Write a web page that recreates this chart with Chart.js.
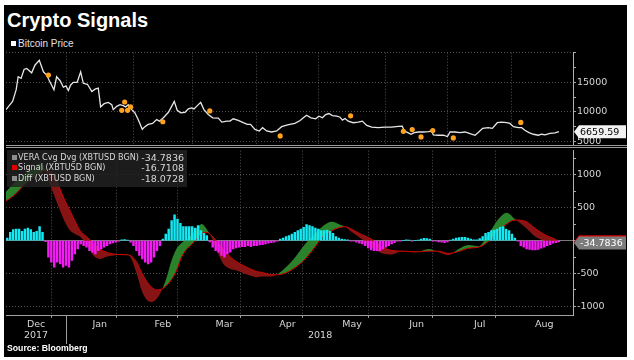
<!DOCTYPE html>
<html>
<head>
<meta charset="utf-8">
<script src="https://cdn.jsdelivr.net/npm/chart.js@4.4.1/dist/chart.umd.min.js"></script>
<style>
  body { margin: 0; background: #fff; width: 634px; height: 360px; position: relative; overflow: hidden; }
  #frame { position: absolute; left: 4px; top: 5px; width: 623px; height: 352px; background: #000; }
  #title { position: absolute; left: 7px; top: 9px; line-height: 20px; color: #fff; font: bold 20px "Liberation Sans", sans-serif; }
  #priceLegend { position: absolute; left: 11px; top: 38px; line-height: 11px; color: #e0e0e0; font: 10px "Liberation Sans Narrow", sans-serif; }
  #priceLegend .sw { display: inline-block; width: 5px; height: 5px; background: #fff; margin-right: 2px; vertical-align: 1px; }
  #sep { position: absolute; left: 6px; top: 145px; width: 621px; height: 1px; border-top: 1px solid #9a9a9a; border-bottom: 1px solid #9a9a9a; }
  canvas { position: absolute; left: 0; }
  #macdLegend { position: absolute; left: 7px; top: 150px; width: 180px; height: 37px; background: rgba(34, 34, 34, 0.82); }
  #macdLegend .row { position: relative; height: 10.5px; line-height: 10.5px; color: #d8d8d8; font: 9px "DejaVu Sans Condensed", sans-serif; }
  #macdLegend .row:first-child { margin-top: 1.5px; }
  #macdLegend .sw { position: absolute; left: 5px; top: 3px; width: 5px; height: 5px; }
  #macdLegend .name { position: absolute; left: 11px; }
  #macdLegend .val { position: absolute; right: 3px; font: 9.5px "DejaVu Sans", sans-serif; }
  #source { position: absolute; left: 7px; top: 343px; line-height: 11px; color: #fff; font: bold 8.7px "Liberation Sans", sans-serif; }
</style>
</head>
<body>
<div id="frame"></div>
<div id="title">Crypto Signals</div>
<div id="priceLegend"><span class="sw"></span>Bitcoin Price</div>
<canvas id="priceChart" width="634" height="106" style="top:46px"></canvas>
<canvas id="macdChart" width="634" height="213" style="top:144px"></canvas>
<div id="sep"></div>
<div id="macdLegend"></div>
<div id="source">Source: Bloomberg</div>

<script>
// x positions are weekday (trading day) counts from Fri 1 Dec 2017
const monthNames = ['Dec', 'Jan', 'Feb', 'Mar', 'Apr', 'May', 'Jun', 'Jul', 'Aug'];
const monthMid = [10.8, 32.5, 54, 75, 96.5, 118.5, 140.5, 162, 184];
const monthStart = [21, 44, 64, 86, 107, 130, 151, 173];
const yearNames = ['2017', '2018'];
const yearMid = [10.8, 107.6];
const yearSplit = 21;

// bitcoin price (top panel)
const priceIdx = [0.55, 1.3, 2.8, 4, 4.7, 5.7, 6.7, 7.6, 9.3, 10.4, 11.9, 13.3, 14.4, 15.5, 16.9, 17.8, 19, 20.1, 21, 21.8,
    22.6, 23.5, 24.8, 26, 26.9, 28.3, 29.8, 30.9, 32, 32.8, 34, 35.4, 36.6, 37.1, 38.3, 39.4, 40.5, 41.4, 42.2, 43.4,
    44.5, 45.6, 47, 47.9, 49, 50.5, 51.9, 52.8, 54.2, 55.9, 57, 57.9, 58.9, 60.1, 61.6, 62.7, 63.8, 64.6, 65.5, 66.9,
    68, 69.5, 71, 72.9, 74.1, 75.8, 76.9, 78, 79.7, 81.4, 82.8, 83.9, 85.4, 86.9, 88, 89.4, 91.1, 92.8, 94.5, 96.2,
    97.3, 99, 100.8, 101.9, 103, 104.5, 106.1, 107.2, 108.4, 109.5, 110.6, 111.8, 113.3, 114.4, 115.2, 116.1, 117.2, 118.9, 120.6, 122,
    123.5, 125.2, 127.4, 129.7, 132, 134.3, 135.6, 136.3, 137.5, 138.6, 139.7, 141.1, 142.8, 144.5, 145.6, 146.2, 147.9, 149.6, 151, 151.9,
    153.6, 155.3, 157, 158.7, 160.4, 161.5, 163, 164.9, 166.3, 168, 169.5, 171.2, 172.3, 173.5, 175.2, 176.3, 177.4, 178.8, 180.3, 182,
    183.1, 184.3, 185.9, 187.7, 189];
const priceVal = [10383, 10833, 11770, 13717, 15933, 15667, 17167, 17333, 16600, 17883, 18717, 16767, 16217, 15100, 13717, 15933, 15267, 14167, 14383, 13600,
    14550, 15000, 15000, 16767, 14833, 14667, 13433, 13833, 14000, 10833, 11383, 11600, 11217, 10383, 10933, 11217, 11050, 10833, 11217, 10383,
    9833, 8717, 7050, 7500, 7883, 8050, 8717, 8433, 9000, 9933, 10933, 11767, 10267, 9833, 9933, 10500, 10667, 10500, 10933, 11600,
    10383, 9550, 9000, 8933, 8267, 8433, 8433, 8833, 8550, 8167, 7883, 7883, 7050, 6767, 7333, 6767, 6600, 6767, 7500, 7767,
    7883, 8050, 8550, 9000, 9433, 9000, 8833, 9267, 9000, 9550, 9717, 9383, 9267, 9100, 8600, 8883, 8433, 8167, 8267, 8433,
    7717, 7433, 7333, 7433, 7433, 7550, 7600, 6767, 6500, 6217, 6500, 6600, 6600, 6667, 6767, 6100, 6050, 6050, 5833, 6600,
    6600, 6500, 6600, 6333, 6050, 6500, 7217, 7333, 7217, 8167, 8267, 8167, 8050, 7500, 7333, 7333, 6883, 6500, 6217, 6050,
    6217, 6100, 6383, 6433, 6660];
const markIdx = [15, 40, 41, 42, 43, 54, 70, 94, 118, 136, 139, 142, 146, 153, 176];
const markVal = [16217, 10267, 11667, 10267, 10833, 8333, 10167, 5933, 9333, 6717, 7000, 5767, 6833, 5600, 8217];
const lastPrice = 6659.59;
const priceTicks = [5000, 7500, 10000, 12500, 15000, 17500, 20000];
const priceGrid = [5000, 10000, 15000, 20000];
const priceLabels = [5000, 10000, 15000];

// VERA convergence / divergence (bottom panel)
const macdIdx = [0.5, 3.6, 6.5, 9.3, 12.1, 13.8, 15.5, 17.3, 19, 20.7, 22.4, 24.1, 25.8, 28, 30.3, 32.6, 34.9, 37.1, 39.4, 41.7,
    43.4, 45.1, 46.8, 48.5, 50.2, 51.9, 53.6, 55.3, 57, 58.7, 60.4, 62.1, 63.8, 65.5, 67.3, 69, 70.7, 72.4, 74.6, 76.9,
    79.2, 81.5, 83.7, 86, 88.3, 90.5, 92.8, 95.4, 99.1, 102.5, 105.9, 108.7, 111.6, 114.4, 116.1, 118.4, 121.8, 125.2, 128.6, 132,
    135.4, 138.8, 141.1, 144.5, 148, 151.3, 154.8, 158.2, 161.6, 165, 168.4, 171.2, 174, 177.5, 180.9, 184.3, 187.7, 189];
const macdVal = [740, 890, 1000, 1086, 1172, 1090, 860, 650, 455, 280, 152, 100, 60, -50, -227, -278, -245, -228, -212, -205,
    -290, -505, -758, -899, -934, -884, -758, -560, -300, -120, -35, 15, 85, 185, 253, 170, 40, -152, -353, -429,
    -455, -495, -530, -556, -545, -545, -518, -430, -253, -50, 101, 227, 288, 242, 212, 130, 25, -101, -192, -212,
    -162, -177, -172, -126, -177, -220, -126, -66, -85, 101, 328, 424, 328, 202, 61, -5, -15, -35];
const signalVal = [600, 700, 835, 940, 1020, 1065, 1050, 960, 780, 600, 450, 290, 150, 60, -40, -130, -180, -205, -212, -215,
    -240, -330, -490, -620, -710, -750, -740, -680, -590, -450, -250, -130, -60, 30, 110, 125, 70, -10, -130, -245,
    -325, -380, -430, -470, -490, -518, -520, -500, -410, -280, -95, 76, 152, 202, 212, 170, 90, 20, -90, -150,
    -160, -168, -170, -160, -162, -195, -165, -115, -100, -10, 152, 253, 313, 295, 185, 85, 20, -17];
// diff histogram, one bar per weekday starting at weekday 1 (Mon 4 Dec)
const diffStart = 1;
const diffVal = [40, 126, 167, 177, 177, 141, 177, 192, 167, 126, 141, 212, 126,
    -15, -253, -328, -404, -328, -353, -404, -379, -404, -303, -202, -126,
    -50, -76, -101, -152, -177, -202, -152, -126, -101, -76, -50, -35, -25, -10, 10, 15, 5,
    -25, -76, -152, -227, -278, -328, -353, -328, -253, -152, -76,
    25, 101, 177, 303, 394, 328, 262, 212, 212, 212, 212, 192, 227, 152, 111, 76,
    -20, -101, -152, -177, -227, -253, -202, -177, -126, -111, -101, -91, -91, -76, -91, -76, -76, -66, -61, -50, -40, -30, -25, -10,
    25, 40, 61, 76, 101, 126, 152, 177, 202, 242, 227, 212, 192, 177, 152, 152, 162, 141, 111, 61, 40, 25, 15, 10,
    -5, -10, -25, -40, -50, -76, -111, -141, -152, -152, -152, -126, -101, -76, -50, -30, -10, -5, 0,
    10, 5, -10, 0, 5, 25, 35, 30, 25, -5, -10, -20, -25, -30, -20,
    5, 25, 40, 45, 50, 50, 40, 25, 10, 10,
    30, 61, 111, 126, 152, 162, 177, 202, 212, 177, 152, 101, 40, -5,
    -76, -101, -126, -136, -141, -141, -136, -116, -101, -76, -61, -40, -30, -18];
const veraTicks = [-1000, -750, -500, -250, 0, 250, 500, 750, 1000, 1250];
const veraGrid = [-1000, -500, 0, 500, 1000];
const veraLabels = [-1000, -500, 500, 1000];

const legendNames = ['VERA Cvg Dvg (XBTUSD BGN)', 'Signal (XBTUSD BGN)', 'Diff (XBTUSD BGN)'];
const legendValues = ['-34.7836', '-16.7108', '-18.0728'];
const legendColors = ['#8c8c8c', '#e00000', '#8c8c8c'];
const lastVera = -34.7836;
const lastSignal = -16.7108;

const X_MIN = 0.55, X_MAX = 193.8;
const TEXT = '#d6d6d6';
const GRID = '#505050';
const CLEAR = 'rgba(0,0,0,0)';

Chart.defaults.font.family = '"DejaVu Sans", sans-serif';
Chart.defaults.font.size = 9.5;
Chart.defaults.color = TEXT;

function points(xs, ys) {
    return xs.map((x, k) => ({x: x, y: ys[k]}));
}

function monthAxis(withLabels) {
    return {
        type: 'linear',
        min: X_MIN,
        max: X_MAX,
        offset: false,
        afterBuildTicks: (s) => {
            let vals = monthStart.slice();
            if (withLabels) {
                vals = vals.concat(monthMid);
            }
            s.ticks = vals.sort((a, b) => a - b).map((v) => ({value: v}));
        },
        afterFit: (s) => { s.height = withLabels ? 42 : 0; },
        ticks: {
            display: withLabels,
            autoSkip: false,
            maxRotation: 0,
            padding: 1,
            color: TEXT,
            callback: (v) => {
                const k = monthMid.indexOf(v);
                return k >= 0 ? monthNames[k] : '';
            }
        },
        grid: {
            color: (c) => (c.tick && monthStart.includes(c.tick.value)) ? GRID : CLEAR,
            tickColor: (c) => (c.tick && monthStart.includes(c.tick.value)) ? '#999' : CLEAR,
            drawTicks: withLabels,
            tickLength: 3
        },
        border: { display: withLabels, color: '#a0a0a0', dash: [1, 2] }
    };
}

function valueAxis(min, max, ticks, gridVals, labels) {
    return {
        position: 'right',
        min: min,
        max: max,
        afterBuildTicks: (s) => { s.ticks = ticks.map((v) => ({value: v})); },
        afterFit: (s) => { s.width = 61; },
        ticks: {
            color: TEXT,
            padding: 1,
            callback: (v) => labels.includes(v) ? String(v) : ''
        },
        grid: {
            color: (c) => {
                if (!c.tick) return GRID;
                if (c.tick.value === 0) return '#7a7a7a';
                return gridVals.includes(c.tick.value) ? GRID : CLEAR;
            },
            tickColor: '#aaa',
            tickLength: 3
        },
        border: {
            color: '#b0b0b0',
            dash: (c) => (c.tick && c.tick.value === 0) ? [] : [1, 2]
        }
    };
}

// price / value tags on the right axis
const valueTags = {
    id: 'valueTags',
    afterDraw(chart, args, opts) {
        const ctx = chart.ctx;
        const y = chart.scales.y;
        const x0 = chart.chartArea.right + 1;
        opts.items.forEach((it) => {
            const py = y.getPixelForValue(it.value);
            ctx.save();
            ctx.beginPath();
            ctx.moveTo(x0, py);
            ctx.lineTo(x0 + 5, py - 6.5);
            ctx.lineTo(x0 + 52, py - 6.5);
            ctx.lineTo(x0 + 52, py + 6.5);
            ctx.lineTo(x0 + 5, py + 6.5);
            ctx.closePath();
            ctx.fillStyle = it.bg;
            ctx.fill();
            if (it.text) {
                ctx.fillStyle = it.color;
                ctx.font = '9.5px "DejaVu Sans"';
                ctx.textBaseline = 'middle';
                ctx.fillText(it.text, x0 + 6, py + 0.5);
            }
            ctx.restore();
        });
    }
};

// second row of the time axis: years and the split between them
const yearRow = {
    id: 'yearRow',
    afterDraw(chart) {
        const ctx = chart.ctx;
        const x = chart.scales.x;
        ctx.save();
        ctx.fillStyle = TEXT;
        ctx.font = '9.5px "DejaVu Sans"';
        ctx.textAlign = 'center';
        ctx.textBaseline = 'middle';
        yearNames.forEach((name, k) => {
            ctx.fillText(name, x.getPixelForValue(yearMid[k]), x.top + 21);
        });
        const sx = Math.round(x.getPixelForValue(yearSplit)) + 0.5;
        ctx.strokeStyle = '#9a9a9a';
        ctx.lineWidth = 1;
        ctx.beginPath();
        ctx.moveTo(sx, x.top);
        ctx.lineTo(sx, x.top + 29);
        ctx.stroke();
        ctx.restore();
    }
};

const priceChart = new Chart(document.getElementById('priceChart'), {
    type: 'line',
    data: {
        datasets: [{
            data: points(markIdx, markVal),
            showLine: false,
            pointRadius: 2.6,
            pointBackgroundColor: '#ffa21f',
            pointBorderWidth: 0,
            order: 0
        }, {
            data: points(priceIdx, priceVal),
            borderColor: '#e6e6e6',
            borderWidth: 1.3,
            pointRadius: 0,
            tension: 0,
            order: 1
        }]
    },
    options: {
        responsive: false,
        animation: false,
        events: [],
        layout: { padding: { left: 6, right: 0, top: 6, bottom: 6 } },
        scales: {
            x: monthAxis(false),
            y: valueAxis(4350, 20000, priceTicks, priceGrid, priceLabels)
        },
        plugins: {
            legend: { display: false },
            tooltip: { enabled: false },
            valueTags: { items: [{ value: lastPrice, bg: '#f2f2f2', color: '#000', text: lastPrice.toFixed(2) }] }
        }
    },
    plugins: [valueTags]
});

const macdChart = new Chart(document.getElementById('macdChart'), {
    type: 'line',
    data: {
        datasets: [{
            type: 'bar',
            data: points(diffVal.map((v, k) => diffStart + k), diffVal),
            backgroundColor: (c) => (c.raw && c.raw.y >= 0) ? '#14eaf4' : '#f41cf4',
            barThickness: 1.8,
            order: 0
        }, {
            data: points(macdIdx, macdVal),
            borderColor: CLEAR,
            borderWidth: 0,
            pointRadius: 0,
            cubicInterpolationMode: 'monotone',
            fill: { target: 2, above: 'rgba(46, 142, 46, 0.92)', below: 'rgba(146, 22, 22, 0.92)' },
            order: 2
        }, {
            data: points(macdIdx, signalVal),
            borderColor: '#d80000',
            borderWidth: 1,
            pointRadius: 0,
            cubicInterpolationMode: 'monotone',
            fill: false,
            order: 1
        }]
    },
    options: {
        responsive: false,
        animation: false,
        events: [],
        layout: { padding: { left: 6, right: 0, top: 6, bottom: 0 } },
        scales: {
            x: monthAxis(true),
            y: valueAxis(-1132, 1368, veraTicks, veraGrid, veraLabels)
        },
        plugins: {
            legend: { display: false },
            tooltip: { enabled: false },
            valueTags: { items: [
                { value: lastSignal, bg: '#d80000' },
                { value: lastVera, bg: '#7c7c7c', color: '#fff', text: lastVera.toFixed(4) }
            ] }
        }
    },
    plugins: [valueTags, yearRow]
});

// legend box of the lower panel
const legendBox = document.getElementById('macdLegend');
legendNames.forEach((name, k) => {
    const row = document.createElement('div');
    row.className = 'row';
    row.innerHTML = '<span class="sw" style="background:' + legendColors[k] + '"></span>' +
        '<span class="name">' + name + '</span><span class="val">' + legendValues[k] + '</span>';
    legendBox.appendChild(row);
});
</script>
</body>
</html>
